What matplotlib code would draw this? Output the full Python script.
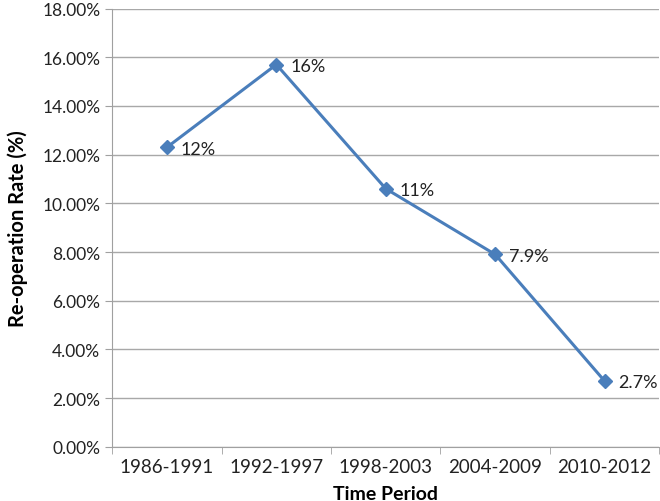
import numpy as np
import matplotlib.pyplot as plt
from matplotlib.ticker import FuncFormatter, FixedLocator

periods = ['1986-1991', '1992-1997', '1998-2003', '2004-2009', '2010-2012']
rates = [12.3, 15.7, 10.6, 7.9, 2.7]
labels = ['12%', '16%', '11%', '7.9%', '2.7%']

plt.rcParams['font.family'] = ['Lato', 'DejaVu Sans']

fig = plt.figure(figsize=(6.6, 5.02), dpi=100)
ax = fig.add_axes([0.170, 0.108, 0.829, 0.873])

x = np.arange(len(periods))
ax.plot(x, rates, color='#4a7ebb', lw=2.2, marker='D', markersize=7.5, zorder=3)
for xi, yi, lab in zip(x, rates, labels):
    ax.annotate(lab, (xi, yi), xytext=(10, -1), textcoords='offset points',
                va='center', ha='left', fontsize=13, color='#222222')

ax.set_xlim(-0.5, len(periods) - 0.5)
ax.set_ylim(0, 18)
ax.set_yticks(np.arange(0, 19, 2))
ax.yaxis.set_major_formatter(FuncFormatter(lambda v, p: '%.2f%%' % v))
ax.set_xticks(x)
ax.set_xticklabels(periods)
ax.xaxis.set_minor_locator(FixedLocator(np.arange(-0.5, len(periods), 1)))
ax.tick_params(axis='x', which='major', length=0, labelsize=13.5, pad=8, colors='#222222')
ax.tick_params(axis='x', which='minor', length=5, color='#a0a0a0')
ax.tick_params(axis='y', length=5, color='#a0a0a0', labelsize=12.5, labelcolor='#222222')

ax.grid(axis='y', color='#a8a8a8', lw=1)
ax.set_axisbelow(True)
for s in ['top', 'right']:
    ax.spines[s].set_visible(False)
for s in ['left', 'bottom']:
    ax.spines[s].set_color('#a0a0a0')

ax.set_xlabel('Time Period', fontsize=14, fontweight='bold', labelpad=7)
ax.set_ylabel('Re-operation Rate (%)', fontsize=14.5, fontweight='bold', labelpad=10)

fig.savefig('out.png', dpi=100)
